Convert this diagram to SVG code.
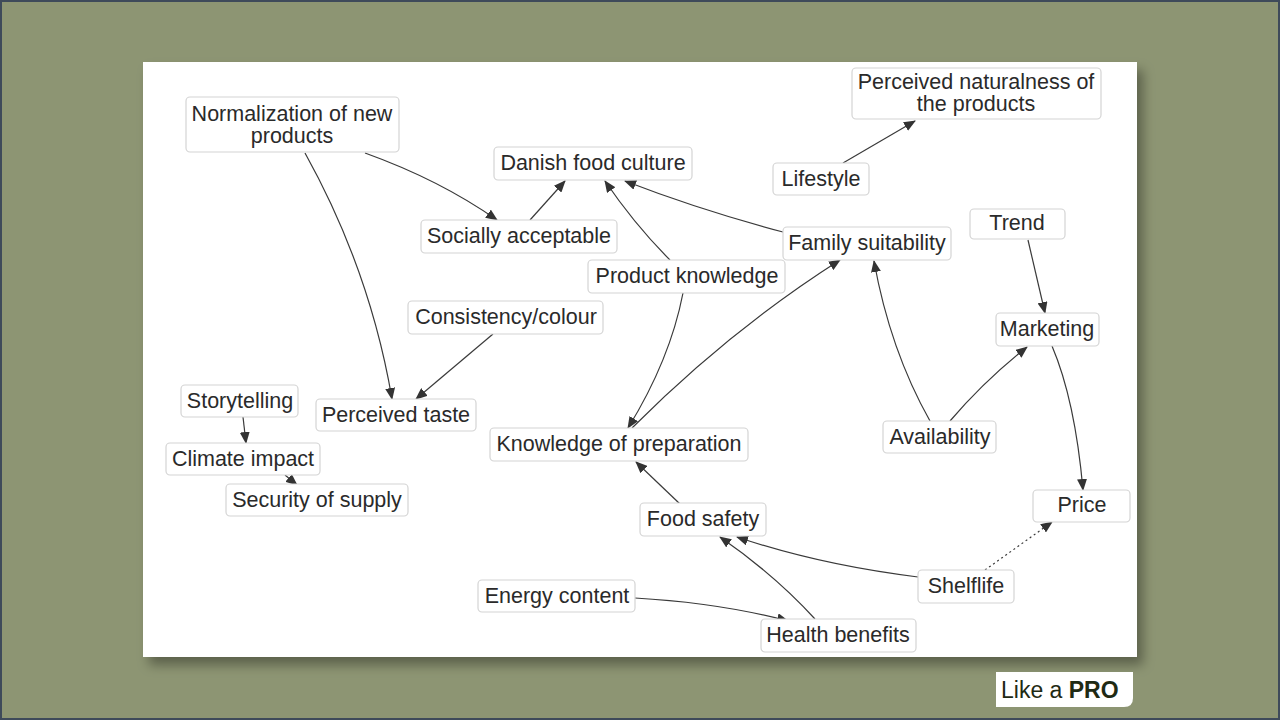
<svg xmlns="http://www.w3.org/2000/svg" width="1280" height="720" viewBox="0 0 1280 720">
<defs>
<marker id="a" markerWidth="12" markerHeight="10" refX="11" refY="5" orient="auto" markerUnits="userSpaceOnUse"><path d="M0,0 L12,5 L0,10 Z" fill="#333"/></marker>
<filter id="sh" x="-5%" y="-5%" width="110%" height="115%"><feDropShadow dx="6" dy="8" stdDeviation="6" flood-color="#000" flood-opacity="0.35"/></filter>
</defs>
<style>
.n rect{fill:#fff;stroke:#d4d4d4;stroke-width:1.2}
.n text{font-family:"Liberation Sans",Arial,sans-serif;font-size:21.5px;fill:#2a2a2a;text-anchor:middle;dominant-baseline:central}
#edges path{fill:none;stroke:#3a3a3a;stroke-width:1.2;marker-end:url(#a)}
</style>
<rect width="1280" height="720" fill="#8d9573"/>
<rect x="1" y="1" width="1278" height="718" fill="none" stroke="#3e4a5a" stroke-width="2"/>
<rect x="143" y="62" width="994" height="595" fill="#fff" filter="url(#sh)"/>
<g id="edges">
<path d="M365,153 Q440,180 497,220"/>
<path d="M305,153 Q370,270 392,399"/>
<path d="M530,220 L565,181"/>
<path d="M670,260 Q635,225 605,181"/>
<path d="M783,232 Q700,210 625,181"/>
<path d="M843,163 L915,121"/>
<path d="M683,293 Q670,360 628,428"/>
<path d="M632,428 Q730,330 840,260"/>
<path d="M493,334 L416,399"/>
<path d="M1028,240 L1045,313"/>
<path d="M1052,346 Q1075,400 1083,490"/>
<path d="M950,421 Q985,380 1027,347"/>
<path d="M930,421 Q890,350 874,261"/>
<path d="M243,417 L246,443"/>
<path d="M285,475 L297,485"/>
<path d="M680,504 L636,462"/>
<path d="M918,577 Q820,565 737,537"/>
<path d="M815,619 Q775,575 720,537"/>
<path d="M635,598 Q720,603 788,621"/>
<path d="M985,570 L1052,522" stroke-dasharray="2,3"/>
</g>
<g id="n1" class="n"><rect x="186" y="97" width="213" height="55" rx="4"/><text x="292" y="114">Normalization of new</text><text x="292" y="136">products</text></g>
<g id="n2" class="n"><rect x="494" y="147" width="198" height="33" rx="4"/><text x="593" y="163">Danish food culture</text></g>
<g id="n3" class="n"><rect x="852" y="68" width="249" height="51" rx="4"/><text x="976" y="82">Perceived naturalness of</text><text x="976" y="104">the products</text></g>
<g id="n4" class="n"><rect x="773" y="163" width="96" height="32" rx="4"/><text x="821" y="179">Lifestyle</text></g>
<g id="n5" class="n"><rect x="421" y="220" width="196" height="33" rx="4"/><text x="519" y="236">Socially acceptable</text></g>
<g id="n6" class="n"><rect x="783" y="227" width="168" height="33" rx="4"/><text x="867" y="243">Family suitability</text></g>
<g id="n7" class="n"><rect x="970" y="209" width="95" height="30" rx="4"/><text x="1017" y="223">Trend</text></g>
<g id="n8" class="n"><rect x="588" y="260" width="197" height="33" rx="4"/><text x="687" y="276">Product knowledge</text></g>
<g id="n9" class="n"><rect x="408" y="301" width="195" height="33" rx="4"/><text x="506" y="317">Consistency/colour</text></g>
<g id="n10" class="n"><rect x="996" y="313" width="103" height="33" rx="4"/><text x="1047" y="329">Marketing</text></g>
<g id="n11" class="n"><rect x="181" y="385" width="117" height="32" rx="4"/><text x="240" y="401">Storytelling</text></g>
<g id="n12" class="n"><rect x="316" y="399" width="160" height="32" rx="4"/><text x="396" y="415">Perceived taste</text></g>
<g id="n13" class="n"><rect x="490" y="428" width="258" height="33" rx="4"/><text x="619" y="444">Knowledge of preparation</text></g>
<g id="n14" class="n"><rect x="883" y="421" width="113" height="32" rx="4"/><text x="940" y="437">Availability</text></g>
<g id="n15" class="n"><rect x="166" y="443" width="154" height="32" rx="4"/><text x="243" y="459">Climate impact</text></g>
<g id="n16" class="n"><rect x="226" y="484" width="182" height="32" rx="4"/><text x="317" y="500">Security of supply</text></g>
<g id="n17" class="n"><rect x="1033" y="490" width="97" height="32" rx="4"/><text x="1082" y="505">Price</text></g>
<g id="n18" class="n"><rect x="640" y="503" width="126" height="33" rx="4"/><text x="703" y="519">Food safety</text></g>
<g id="n19" class="n"><rect x="478" y="580" width="157" height="32" rx="4"/><text x="557" y="596">Energy content</text></g>
<g id="n20" class="n"><rect x="918" y="570" width="96" height="33" rx="4"/><text x="966" y="586">Shelflife</text></g>
<g id="n21" class="n"><rect x="761" y="619" width="155" height="33" rx="4"/><text x="838" y="635">Health benefits</text></g>
<g id="logo"><path d="M996,672 H1133 V698 Q1133,707 1124,707 H996 Z" fill="#fff"/><text x="1001" y="698" font-family="Liberation Sans,Arial,sans-serif" font-size="23" fill="#1f2a14">Like a <tspan font-weight="bold">PRO</tspan></text></g>
</svg>
